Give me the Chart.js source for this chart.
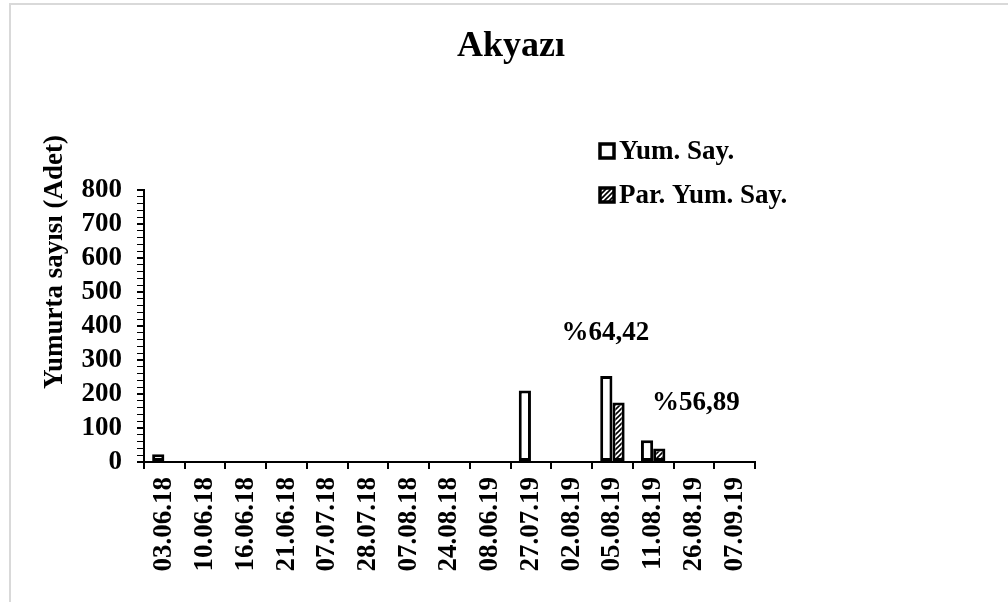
<!DOCTYPE html>
<html>
<head>
<meta charset="utf-8">
<script src="https://cdn.jsdelivr.net/npm/chart.js@4.4.0/dist/chart.umd.min.js"></script>
<style>
    html, body { margin: 0; padding: 0; background: #fff; }
    #wrap { position: relative; width: 1008px; height: 602px; }
    #frame { position: absolute; left: 9px; top: 3px; right: 0; bottom: 0;
             border-left: 2px solid #d9d9d9; border-top: 2px solid #d9d9d9; }
    canvas { position: absolute; left: 0; top: 0; }
</style>
</head>
<body>
<div id="wrap">
    <div id="frame"></div>
    <canvas id="chart" width="1008" height="602"></canvas>
</div>
<script>
// Data
const dates = ['03.06.18', '10.06.18', '16.06.18', '21.06.18', '07.07.18', '28.07.18', '07.08.18',
               '24.08.18', '08.06.19', '27.07.19', '02.08.19', '05.08.19', '11.08.19', '26.08.19', '07.09.19'];
const yumSay = [23, 0, 0, 0, 0, 0, 0, 0, 0, 210, 0, 253, 64, 0, 0];
const parYumSay = [0, 0, 0, 0, 0, 0, 0, 0, 0, 0, 0, 175, 40, 0, 0];
const yTicks = [0, 100, 200, 300, 400, 500, 600, 700, 800];
const rateLabels = ['%64,42', '%56,89'];

const serif = '"Liberation Serif", "Times New Roman", serif';

// Hatched fill for the parasitised eggs
function hatchPattern(ctx) {
    const c = document.createElement('canvas');
    c.width = 5; c.height = 5;
    const p = c.getContext('2d');
    p.fillStyle = '#fff';
    p.fillRect(0, 0, 5, 5);
    p.strokeStyle = '#000';
    p.lineWidth = 1.6;
    p.beginPath();
    p.moveTo(0, 5); p.lineTo(5, 0);
    p.moveTo(-1, 1); p.lineTo(1, -1);
    p.moveTo(4, 6); p.lineTo(6, 4);
    p.stroke();
    return ctx.createPattern(c, 'repeat');
}

const ctx = document.getElementById('chart').getContext('2d');
const hatch = hatchPattern(ctx);

// no outline for empty (zero) bars
const outline = (c) => c.raw ? 3 : 0;

// Title, legend, axis title and percentage notes
const extras = {
    id: 'extras',
    afterDraw(chart) {
        const c = chart.ctx;
        c.save();
        c.fillStyle = '#000';
        c.textBaseline = 'middle';

        c.font = 'bold 36px ' + serif;
        c.textAlign = 'center';
        c.fillText('Akyazı', 511, 47);

        c.save();
        c.translate(55, 262);
        c.rotate(-Math.PI / 2);
        c.font = 'bold 27px ' + serif;
        c.fillText('Yumurta sayısı (Adet)', 0, 0);
        c.restore();

        // legend
        c.textAlign = 'left';
        c.font = 'bold 27px ' + serif;
        chart.data.datasets.forEach((ds, i) => {
            const y = 151 + i * 44;
            c.fillStyle = i === 0 ? '#fff' : hatch;
            c.fillRect(600, y - 7, 14, 14);
            c.strokeStyle = '#000';
            c.lineWidth = 3.5;
            c.strokeRect(600, y - 7, 14, 14);
            c.fillStyle = '#000';
            c.fillText(ds.label, 619, y + 1);
        });

        // percentage notes tied to the bar groups
        const x = chart.scales.x;
        const y = chart.scales.y;
        c.textAlign = 'center';
        c.font = 'bold 27px ' + serif;
        c.fillText(rateLabels[0], x.getPixelForValue(11) - 7, y.getPixelForValue(yumSay[11]) - 43);
        c.fillText(rateLabels[1], x.getPixelForValue(13) + 2, y.getPixelForValue(yumSay[12]) - 37);
        c.restore();
    }
};

new Chart(ctx, {
    type: 'bar',
    data: {
        labels: dates,
        datasets: [{
            label: 'Yum. Say.',
            data: yumSay,
            backgroundColor: '#fff',
            borderColor: '#000',
            borderWidth: outline,
            borderSkipped: false
        }, {
            label: 'Par. Yum. Say.',
            data: parYumSay,
            backgroundColor: hatch,
            borderColor: '#000',
            borderWidth: outline,
            borderSkipped: false
        }]
    },
    options: {
        responsive: false,
        animation: false,
        layout: { padding: { left: 0, top: 190, right: 253, bottom: 0 } },
        datasets: { bar: { categoryPercentage: 0.6, barPercentage: 1.0 } },
        plugins: {
            legend: { display: false },
            title: { display: false },
            tooltip: { enabled: false }
        },
        scales: {
            x: {
                afterFit(scale) { scale.height = 140; },
                grid: { drawOnChartArea: false, color: '#000', lineWidth: 2, tickLength: 7 },
                border: { color: '#000', width: 2 },
                ticks: {
                    color: '#000',
                    minRotation: 90, maxRotation: 90,
                    autoSkip: false,
                    padding: 8,
                    font: { family: serif, size: 27, weight: 'bold' }
                }
            },
            y: {
                min: 0, max: 800,
                afterFit(scale) { scale.width = 144; },
                afterBuildTicks(scale) {
                    // minor ticks every 20, labels only on the named values
                    const t = [];
                    for (let v = 0; v <= 800; v += 20) t.push({ value: v });
                    scale.ticks = t;
                },
                grid: {
                    drawOnChartArea: false, color: '#000', tickLength: 7,
                    lineWidth: (c) => yTicks.includes(c.tick.value) ? 2 : 1
                },
                border: { color: '#000', width: 2 },
                ticks: {
                    color: '#000',
                    autoSkip: false,
                    padding: 15,
                    callback: (v) => yTicks.includes(v) ? String(v) : '',
                    font: { family: serif, size: 27, weight: 'bold' }
                }
            }
        }
    },
    plugins: [extras]
});
</script>
</body>
</html>
